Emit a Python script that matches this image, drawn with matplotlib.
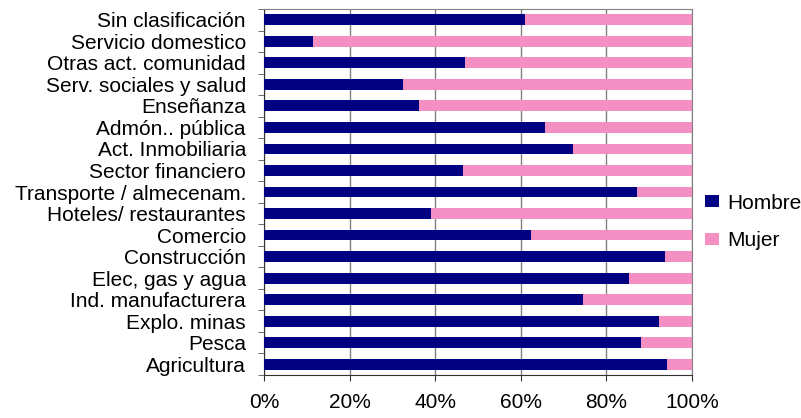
import matplotlib
matplotlib.use("Agg")
import matplotlib.pyplot as plt
import numpy as np

categories = ["Agricultura", "Pesca", "Explo. minas", "Ind. manufacturera",
              "Elec, gas y agua", "Construcción", "Comercio", "Hoteles/ restaurantes",
              "Transporte / almecenam.", "Sector financiero", "Act. Inmobiliaria",
              "Admón.. pública", "Enseñanza", "Serv. sociales y salud",
              "Otras act. comunidad", "Servicio domestico", "Sin clasificación"]
hombre = [94.2, 88.2, 92.4, 74.6, 85.3, 93.8, 62.4, 39.0, 87.2, 46.5, 72.3,
          65.7, 36.2, 32.5, 47.0, 11.5, 61.0]
mujer = [100 - h for h in hombre]
xticklabels = ["0%", "20%", "40%", "60%", "80%", "100%"]

plt.rcParams['font.family'] = ['Liberation Sans', 'DejaVu Sans']
FS = 15
px = FS * 100 / 72.0

fig = plt.figure(figsize=(8.01, 4.18), dpi=100)
ax = fig.add_axes([264/801, 1 - 375/418, (692-264)/801, (375-9)/418])

y = np.arange(len(categories))
ax.barh(y, hombre, height=0.5, color="#000080", label="Hombre", zorder=3)
ax.barh(y, mujer, left=hombre, height=0.5, color="#F48FC4", label="Mujer", zorder=3)

ax.set_xlim(0, 100)
ax.set_ylim(-0.5, len(categories) - 0.5)
ax.set_xticks(np.linspace(0, 100, 6))
ax.set_xticklabels(xticklabels, fontsize=FS)
ax.set_yticks(y)
ax.set_yticklabels(categories, fontsize=FS)
ax.tick_params(axis='y', length=0, pad=13)
ax.set_yticks(np.arange(-0.5, len(categories)), minor=True)
ax.tick_params(axis='y', which='minor', length=4, color='#555555')
ax.tick_params(axis='x', length=4, color='#333333', pad=9)
ax.grid(axis='x', color='#808080', linewidth=1, zorder=0)

for s in ['top', 'right']:
    ax.spines[s].set_color('#808080')
for s in ['left', 'bottom']:
    ax.spines[s].set_color('#333333')

ax.legend(loc='center left', bbox_to_anchor=(692/801, 1 - 222/418),
          bbox_transform=fig.transFigure, frameon=False,
          fontsize=FS, handlelength=14/px, handleheight=11/px, labelspacing=0.9,
          borderaxespad=0, borderpad=13/px, handletextpad=8/px)

fig.savefig("out.png", dpi=100)
